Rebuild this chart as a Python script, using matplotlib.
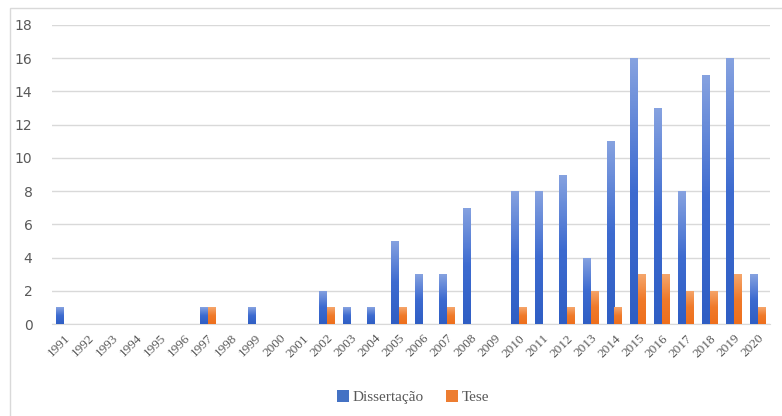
import matplotlib
matplotlib.use("Agg")
import matplotlib.pyplot as plt
import numpy as np
from matplotlib.patches import Rectangle
from matplotlib.colors import LinearSegmentedColormap

anos = [str(a) for a in range(1991, 2021)]
dissertacao = [1, 0, 0, 0, 0, 0, 1, 0, 1, 0, 0, 2, 1, 1, 5, 3, 3, 7, 0, 8,
               8, 9, 4, 11, 16, 13, 8, 15, 16, 3]
tese = [0, 0, 0, 0, 0, 0, 1, 0, 0, 0, 0, 1, 0, 0, 1, 0, 1, 0, 0, 1,
        0, 1, 2, 1, 3, 3, 2, 2, 3, 1]

fig = plt.figure(figsize=(7.82, 4.16), dpi=100)
fig.patches.append(Rectangle((10 / 782, -0.05), 1.0, 1 - 8 / 416 + 0.05,
                             transform=fig.transFigure, fill=False,
                             edgecolor="#d9d9d9", linewidth=1))
ax = fig.add_axes([52 / 782, 1 - 324 / 416, 718 / 782, 299 / 416])

x = np.arange(len(anos))
w = 0.33
cm_blue = LinearSegmentedColormap.from_list("b", ["#2f5ec4", "#3d6bd0", "#86a2e0"])
cm_orange = LinearSegmentedColormap.from_list("o", ["#ee6f1c", "#f07a2a", "#f5a66c"])

def gradient_bars(xs, vals, cmap, color):
    bars = ax.bar(xs, vals, w, color=color, zorder=2)
    for b in bars:
        h = b.get_height()
        if h <= 0:
            continue
        x0 = b.get_x()
        grad = np.linspace(0, 1, 100).reshape(-1, 1)
        im = ax.imshow(grad, cmap=cmap, aspect="auto", origin="lower",
                       extent=[x0, x0 + b.get_width(), 0, h], zorder=3)
        im.set_clip_path(b)
    return bars

b1 = gradient_bars(x - w / 2, dissertacao, cm_blue, "#4472c4")
b2 = gradient_bars(x + w / 2, tese, cm_orange, "#ed7d31")

ax.set_xlim(-0.5, len(anos) - 0.5)
ax.set_ylim(0, 18)
ax.set_yticks(range(0, 19, 2))
ax.grid(axis="y", color="#d9d9d9", linewidth=1, zorder=0)
ax.set_axisbelow(True)
for s in ["top", "right", "left"]:
    ax.spines[s].set_visible(False)
ax.spines["bottom"].set_color("#d9d9d9")
ax.tick_params(axis="both", length=0, colors="#595959")
ax.tick_params(axis="y", labelsize=10, pad=14)
ax.set_xticks(x)
ax.set_xticklabels(anos, rotation=45, ha="right", va="top",
                   rotation_mode="anchor", fontsize=9.5, family="Liberation Serif")
ax.tick_params(axis="x", pad=6)

leg = fig.legend([b1, b2], ["Dissertação", "Tese"], loc="center",
                 bbox_to_anchor=(0.528, 1 - 397 / 416), ncol=2, frameon=False,
                 prop={"family": "Liberation Serif", "size": 11},
                 handlelength=0.8, handleheight=0.8, handletextpad=0.2,
                 columnspacing=1.5)
for t in leg.get_texts():
    t.set_color("#595959")

fig.savefig("out.png", dpi=100)
